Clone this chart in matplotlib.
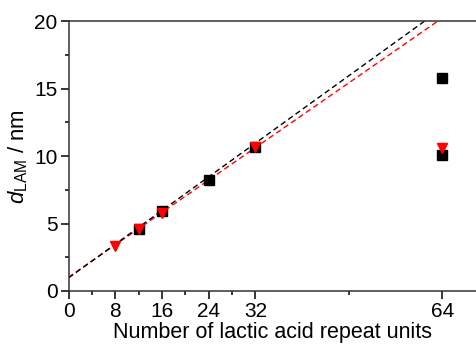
import numpy as np
import matplotlib
matplotlib.use("Agg")
import matplotlib.pyplot as plt

plt.rcParams["font.family"] = ["Liberation Sans", "DejaVu Sans"]
plt.rcParams["mathtext.fontset"] = "custom"
plt.rcParams["mathtext.rm"] = "Liberation Sans"
plt.rcParams["mathtext.it"] = "Liberation Sans:italic"

# black squares
sq_x = [12, 16, 24, 32, 64, 64]
sq_y = [4.6, 5.9, 8.2, 10.7, 15.8, 10.1]
# red triangles
tri_x = [8, 12, 16, 32, 64]
tri_y = [3.3, 4.6, 5.8, 10.7, 10.6]

# linear fits (intercept, slope)
fit_black = (0.97, 0.312)
fit_red = (1.02, 0.300)

fig = plt.figure(figsize=(4.76, 3.46), dpi=100)
ax = fig.add_axes([0.144, 0.159, 0.856, 0.780])

xl = np.array([0, 66])
ax.plot(xl, fit_red[0] + fit_red[1] * xl, color="red", ls=(0, (4, 2.5)), lw=1.0)
ax.plot(xl, fit_black[0] + fit_black[1] * xl, color="black", ls=(0, (4, 2.5)), lw=1.0)

ax.plot(sq_x, sq_y, "s", color="black", ms=6.5, ls="none")
ax.plot(tri_x, tri_y, "v", color="red", ms=7.5, ls="none")

ax.set_xlim(0, 69.8)
ax.set_ylim(0, 20)
ax.set_xticks([0, 8, 16, 24, 32, 64])
ax.set_xticks([4, 12, 20, 28, 48], minor=True)
ax.set_yticks([0, 5, 10, 15, 20])
ax.set_yticks([2.5, 7.5, 12.5, 17.5], minor=True)
ax.tick_params(which="major", direction="out", length=6, width=1.1, labelsize=15, pad=2)
ax.tick_params(which="minor", direction="out", length=3, width=1.1)
ax.spines["right"].set_visible(False)
for s in ["left", "bottom", "top"]:
    ax.spines[s].set_linewidth(1.1)
    ax.spines[s].set_color("#333333")

ax.set_xlabel("Number of lactic acid repeat units", fontsize=15.5, labelpad=1)
ax.set_ylabel(r"$d_{\mathrm{LAM}}$ / nm", fontsize=16, labelpad=3)

fig.savefig("out.png", dpi=100)
